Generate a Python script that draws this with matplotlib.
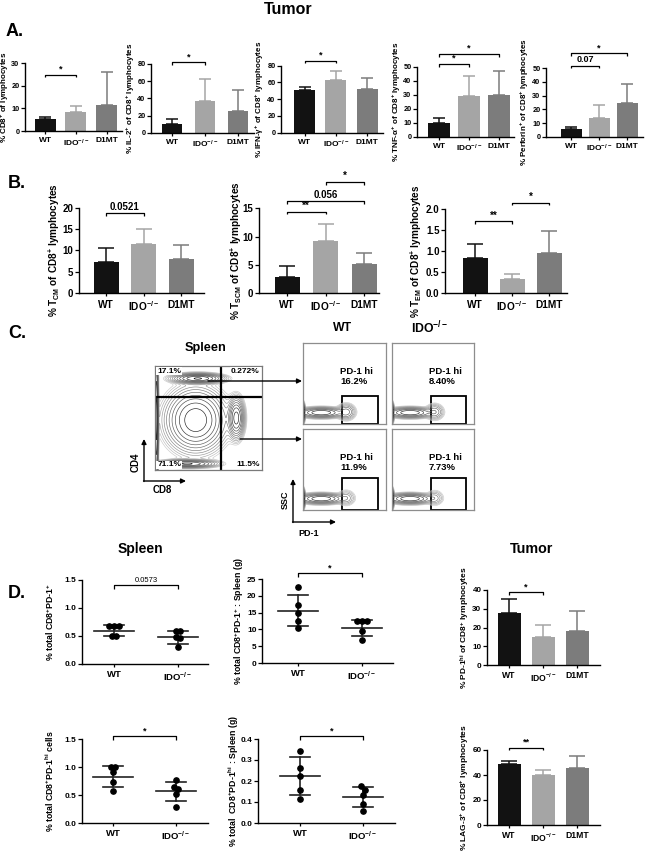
import numpy as np
import matplotlib
matplotlib.use("Agg")
import matplotlib.pyplot as plt
from matplotlib.patches import Rectangle, FancyArrowPatch

plt.rcParams['font.family'] = ['Liberation Sans', 'DejaVu Sans']
plt.rcParams['font.weight'] = 'bold'
plt.rcParams['axes.labelweight'] = 'bold'
plt.rcParams['mathtext.fontset'] = 'custom'
plt.rcParams['mathtext.rm'] = 'Liberation Sans:bold'
plt.rcParams['mathtext.bf'] = 'Liberation Sans:bold'
plt.rcParams['mathtext.it'] = 'Liberation Sans:bold:italic'
plt.rcParams['mathtext.sf'] = 'Liberation Sans:bold'
plt.rcParams['mathtext.default'] = 'bf'

# ------------------------------------------------------------------ data
groups3 = ["WT", "IDO$^{-/-}$", "D1MT"]
groups2 = ["WT", "IDO$^{-/-}$"]
bar_colors = ["#121212", "#a5a5a5", "#7c7c7c"]

# Panel A (tumor): mean and upper SD
a_cd8_mean = [5.1, 8.2, 11.4]
a_cd8_err = [1.2, 2.9, 14.8]
a_il2_mean = [10.7, 37.3, 24.8]
a_il2_err = [5.7, 24.7, 24.7]
a_ifng_mean = [51.0, 63.0, 51.8]
a_ifng_err = [3.0, 10.7, 13.2]
a_tnfa_mean = [9.5, 29.0, 30.0]
a_tnfa_err = [4.0, 14.5, 17.0]
a_perf_mean = [5.6, 13.4, 24.9]
a_perf_err = [1.7, 9.8, 13.4]

# Panel B
b_tcm_mean = [7.2, 11.5, 7.9]
b_tcm_err = [3.3, 3.5, 3.4]
b_tscm_mean = [2.8, 9.2, 5.2]
b_tscm_err = [2.1, 3.0, 1.9]
b_tem_mean = [0.84, 0.35, 0.96]
b_tem_err = [0.33, 0.12, 0.52]

# Panel C (flow cytometry)
quad_labels = ["17.1%", "0.272%", "71.1%", "11.5%"]
pd1_hi_labels = ["16.2%", "8.40%", "11.9%", "7.73%"]
pop_cx = [0.40, 0.38, 0.30, 0.015, 0.76]
pop_cy = [0.88, 0.48, 0.06, 0.50, 0.50]
pop_sx = [0.11, 0.13, 0.13, 0.008, 0.035]
pop_sy = [0.022, 0.14, 0.018, 0.33, 0.09]
pop_w = [1.0, 0.9, 0.7, 0.8, 0.8]
pd1_cx = [0.22, 0.012, 0.52]
pd1_cy = [0.14, 0.14, 0.15]
pd1_sx = [0.12, 0.006, 0.05]
pd1_sy = [0.028, 0.05, 0.045]
pd1_tail_w = [0.30, 0.22, 0.12, 0.10]

# Panel D (spleen dot plots)
d1_wt = [0.67, 0.685, 0.685, 0.50, 0.50]
d1_ido = [0.59, 0.59, 0.48, 0.47, 0.30]
d1_mean = [0.595, 0.476]
d1_sd = [0.095, 0.115]
d2_wt = [22.5, 17.3, 14.8, 12.5, 10.4]
d2_ido = [12.4, 12.4, 12.4, 9.4, 6.7]
d2_mean = [15.6, 10.4]
d2_sd = [4.6, 2.45]
d3_wt = [1.0, 1.0, 0.91, 0.74, 0.565]
d3_ido = [0.77, 0.61, 0.64, 0.52, 0.29]
d3_mean = [0.83, 0.565]
d3_sd = [0.195, 0.175]
d4_wt = [0.344, 0.262, 0.225, 0.159, 0.116]
d4_ido = [0.178, 0.156, 0.132, 0.09, 0.059]
d4_mean = [0.222, 0.122]
d4_sd = [0.09, 0.048]
# Panel D (tumor bars)
d5_mean = [27.5, 14.9, 18.3]
d5_err = [7.9, 6.6, 10.7]
d6_mean = [48.5, 40.0, 45.9]
d6_err = [3.0, 4.0, 9.3]

# ------------------------------------------------------------------ helpers
W, H = 650, 857
fig = plt.figure(figsize=(W / 100, H / 100), dpi=100)
fig.patch.set_facecolor("white")


def add_ax(x0, x1, ytop, ybot):
    return fig.add_axes([x0 / W, 1 - ybot / H, (x1 - x0) / W, (ybot - ytop) / H])


def T(x, y, s, **kw):
    kw.setdefault("ha", "center")
    kw.setdefault("va", "center")
    kw.setdefault("fontweight", "bold")
    return fig.text(x / W, 1 - y / H, s, **kw)


def xlim_from(x0, x1, c0, cN, n):
    s = (cN - c0) / (n - 1)
    return ((x0 - c0) / s, (n - 1) + (x1 - cN) / s), s


def fmt_ticks(ticks):
    if all(float(t).is_integer() for t in ticks):
        return ["%d" % t for t in ticks]
    return ["%.1f" % t for t in ticks]


def style(ax, fs_y, fs_x):
    for s in ["top", "right"]:
        ax.spines[s].set_visible(False)
    for s in ["left", "bottom"]:
        ax.spines[s].set_linewidth(1.0)
    ax.tick_params(axis="y", direction="out", length=3, width=0.9, labelsize=fs_y, pad=1.0)
    ax.tick_params(axis="x", direction="out", length=2.5, width=0.9, labelsize=fs_x, pad=2)
    for lab in ax.get_xticklabels() + ax.get_yticklabels():
        lab.set_fontweight("bold")


def place_ylabel(ax, box, ylabel, fs, lx):
    x0, x1, ytop, ybot = box
    ax.set_ylabel(ylabel, fontsize=fs)
    ax.yaxis.set_label_coords((lx - x0) / (x1 - x0), 0.5)
    ax.yaxis.label.set_verticalalignment("center")


def bracket(ax, i, j, y, txt, fs, px_h, tick_px=2.8, txt_w="bold"):
    ymax = ax.get_ylim()[1]
    h = tick_px * ymax / px_h
    ax.plot([i, i, j, j], [y - h, y, y, y - h], color="k", lw=0.9, clip_on=False,
            solid_capstyle="butt")
    ax.annotate(txt, ((i + j) / 2, y), xytext=(0, 0.8), textcoords="offset points",
                ha="center", va="bottom", fontsize=fs, fontweight=txt_w,
                annotation_clip=False)


def bar_panel(box, centers, bw_px, means, errs, yticks, ylabel, brackets, lx,
              fs_y, fs_x, fs_lab, fs_br, capsize, br_weight="bold"):
    x0, x1, ytop, ybot = box
    ax = add_ax(*box)
    n = len(means)
    xl, s = xlim_from(x0, x1, centers[0], centers[1], n)
    x = np.arange(n)
    ax.bar(x, means, width=bw_px / s, color=bar_colors[:n], zorder=2)
    for xi, m, e, c in zip(x, means, errs, bar_colors):
        ax.errorbar([xi], [m], yerr=[[0], [e]], fmt="none", ecolor=c,
                    elinewidth=1.1, capsize=capsize, capthick=1.1, zorder=1)
    ax.set_xlim(*xl)
    ax.set_ylim(0, yticks[-1])
    ax.set_yticks(yticks)
    ax.set_yticklabels(fmt_ticks(yticks))
    ax.set_xticks(x)
    ax.set_xticklabels(groups3[:n])
    place_ylabel(ax, box, ylabel, fs_lab, lx)
    style(ax, fs_y, fs_x)
    for (i, j, y, t) in brackets:
        bracket(ax, i, j, y, t, fs_br, ybot - ytop, txt_w=br_weight)
    return ax


def swarm_offsets(vals, tol, dx):
    vals = np.asarray(vals, float)
    order = np.argsort(vals)
    offs = np.zeros(len(vals))
    clusters, cur = [], [order[0]]
    for k in order[1:]:
        if vals[k] - vals[cur[-1]] <= tol:
            cur.append(k)
        else:
            clusters.append(cur)
            cur = [k]
    clusters.append(cur)
    for c in clusters:
        nn = len(c)
        for r, k in enumerate(c[::-1]):
            offs[k] = (r - (nn - 1) / 2) * dx
    return offs


def dot_panel(box, centers, groups_vals, means, sds, yticks, ylabel, brackets, lx,
              fs_y, fs_x, fs_lab, fs_br, br_weight="bold"):
    x0, x1, ytop, ybot = box
    ax = add_ax(*box)
    xl, s = xlim_from(x0, x1, centers[0], centers[1], 2)
    ymax = yticks[-1]
    for gi, (vals, m, sd) in enumerate(zip(groups_vals, means, sds)):
        offs = swarm_offsets(vals, 0.057 * ymax, 4.8 / s)
        ax.plot(gi + offs, vals, "o", color="k", ms=3.8, zorder=3, clip_on=False)
        mw, sw = 20 / s, 10 / s
        ax.plot([gi - mw, gi + mw], [m, m], color="#222222", lw=1.2)
        ax.plot([gi - sw, gi + sw], [m - sd, m - sd], color="#222222", lw=1.2)
        ax.plot([gi - sw, gi + sw], [m + sd, m + sd], color="#222222", lw=1.2)
        ax.plot([gi, gi], [m - sd, m + sd], color="#222222", lw=1.2)
    ax.set_xlim(*xl)
    ax.set_ylim(0, ymax)
    ax.set_yticks(yticks)
    ax.set_yticklabels(fmt_ticks(yticks))
    ax.set_xticks([0, 1])
    ax.set_xticklabels(groups2)
    place_ylabel(ax, box, ylabel, fs_lab, lx)
    style(ax, fs_y, fs_x)
    for (i, j, y, t) in brackets:
        bracket(ax, i, j, y, t, fs_br, ybot - ytop, tick_px=4, txt_w=br_weight)
    return ax


def density(cx, cy, sx, sy, w, n=260):
    g = np.linspace(0, 1, n)
    X, Y = np.meshgrid(g, g)
    Z = np.zeros_like(X)
    for a, b, c, d, e in zip(cx, cy, sx, sy, w):
        Z += e * np.exp(-0.5 * (((X - a) / c) ** 2 + ((Y - b) / d) ** 2))
    return X, Y, Z


def contour_plot(ax, X, Y, Z, nlev=11, lo=0.02):
    levels = np.geomspace(lo, 0.95, nlev) * Z.max()
    cols = plt.cm.Greys(np.linspace(0.32, 0.95, nlev))
    ax.contour(X, Y, Z, levels=levels, colors=cols, linewidths=0.45)
    ax.set_xlim(0, 1)
    ax.set_ylim(0, 1)
    ax.set_xticks([])
    ax.set_yticks([])


def arrow(p0, p1, lw=1.0, ms=7):
    fig.add_artist(FancyArrowPatch((p0[0] / W, 1 - p0[1] / H), (p1[0] / W, 1 - p1[1] / H),
                                   transform=fig.transFigure, arrowstyle="-|>",
                                   mutation_scale=ms, lw=lw, color="k",
                                   shrinkA=0, shrinkB=0))


# ------------------------------------------------------------------ panel A
T(288, 9, "Tumor", fontsize=11.5)
T(6, 32, "A.", fontsize=13, ha="left")
fsA = dict(fs_y=5.3, fs_x=6, fs_lab=5.8, fs_br=6.5, capsize=4.2)
bar_panel((25, 122, 63.3, 131), (45, 106.7), 21, a_cd8_mean, a_cd8_err, [0, 10, 20, 30],
          "% CD8$^{+}$ of lymphocytes", [(0, 1, 25, "*")], 5, **fsA)
bar_panel((151, 254, 64, 132.7), (172, 237.7), 20, a_il2_mean, a_il2_err, [0, 20, 40, 60, 80],
          "% IL-2$^{+}$ of CD8$^{+}$ lymphocytes", [(0, 1, 82, "*")], 131, **fsA)
bar_panel((281, 383, 65.7, 132.7), (304.7, 367), 21, a_ifng_mean, a_ifng_err, [0, 20, 40, 60, 80],
          "% IFN-γ$^{+}$ of CD8$^{+}$ lymphocytes", [(0, 1, 86, "*")], 260, **fsA)
bar_panel((417, 514, 66.7, 136.7), (439, 499), 22, a_tnfa_mean, a_tnfa_err, [0, 10, 20, 30, 40, 50],
          "% TNF-α$^{+}$ of CD8$^{+}$ lymphocytes", [(0, 1, 52, "*"), (0, 2, 59, "*")], 397, **fsA)
bar_panel((546, 643, 68.3, 136.7), (571, 627), 21, a_perf_mean, a_perf_err, [0, 10, 20, 30, 40, 50],
          "% Perforin$^{+}$ of CD8$^{+}$ lymphocytes", [(0, 1, 52, "0.07"), (0, 2, 61, "*")], 525,
          **fsA)

# ------------------------------------------------------------------ panel B
T(8, 183, "B.", fontsize=13, ha="left")
fsB = dict(fs_y=7, fs_x=7.3, fs_lab=7.2, fs_br=7, capsize=5.5)
bar_panel((79, 204, 207.7, 293.3), (106, 181), 25, b_tcm_mean, b_tcm_err, [0, 5, 10, 15, 20],
          "% T$_{CM}$ of CD8$^{+}$ lymphocytes", [(0, 1, 18.7, "0.0521")], 54, **fsB)
bar_panel((259, 379, 208.3, 293.3), (287, 364), 25, b_tscm_mean, b_tscm_err, [0, 5, 10, 15],
          "% T$_{SCM}$ of CD8$^{+}$ lymphocytes",
          [(0, 1, 14.4, "**"), (0, 2, 16.2, "0.056"), (1, 2, 19.6, "*")], 236, **fsB)
bar_panel((445, 567, 209.3, 293.3), (475, 549), 25, b_tem_mean, b_tem_err, [0, 0.5, 1.0, 1.5, 2.0],
          "% T$_{EM}$ of CD8$^{+}$ lymphocytes",
          [(0, 1, 1.71, "**"), (1, 2, 2.16, "*")], 416, **fsB)

# ------------------------------------------------------------------ panel C
T(8, 334, "C.", fontsize=13, ha="left")
T(206, 348, "Spleen", fontsize=9.2)
T(343, 328, "WT", fontsize=8.8)
T(430, 328, "IDO$^{-/-}$", fontsize=8.8)

axm = add_ax(155, 262, 366, 470)
Xm, Ym, Zm = density(pop_cx, pop_cy, pop_sx, pop_sy, pop_w)
contour_plot(axm, Xm, Ym, Zm, nlev=12, lo=0.015)
for sp in axm.spines.values():
    sp.set_color("#7a7a7a")
    sp.set_linewidth(0.9)
axm.axvline(0.617, color="k", lw=1.6)
axm.axhline(0.70, color="k", lw=1.6)
qpos = [(0.02, 0.985, "left", "top"), (0.98, 0.985, "right", "top"),
        (0.02, 0.015, "left", "bottom"), (0.98, 0.015, "right", "bottom")]
for lab, (qx, qy, ha, va) in zip(quad_labels, qpos):
    axm.text(qx, qy, lab, ha=ha, va=va, fontsize=6, fontweight="bold",
             transform=axm.transAxes,
             bbox=dict(boxstyle="square,pad=0.1", fc="white", ec="none"))

arrow((208, 381), (302, 381))
arrow((240, 439), (302, 439))
# CD4 / CD8 axis arrows
arrow((144, 481.5), (144, 439))
arrow((143.5, 481), (186, 481))
T(136, 462, "CD4", fontsize=7, rotation=90)
T(162, 490, "CD8", fontsize=7)

small_boxes = [(303, 386, 343, 424), (392, 474, 343, 424),
               (303, 386, 429, 510), (392, 474, 429, 510)]
gate_y = [0.35, 0.35, 0.40, 0.40]
for k, (bx, tw, lab, gy) in enumerate(zip(small_boxes, pd1_tail_w, pd1_hi_labels, gate_y)):
    ax = add_ax(*bx)
    Xs, Ys, Zs = density(pd1_cx, pd1_cy, pd1_sx, pd1_sy, [1.0, 0.9, tw])
    contour_plot(ax, Xs, Ys, Zs, nlev=10, lo=0.01)
    for sp in ax.spines.values():
        sp.set_color("#8d8d8d")
        sp.set_linewidth(0.9)
    ax.add_patch(Rectangle((0.47, 0.0), 0.43, gy, fill=False, ec="k", lw=1.3, clip_on=False))
    ax.text(0.45, 0.70, "PD-1 hi\n" + lab, ha="left", va="top", fontsize=6.8,
            fontweight="bold", linespacing=1.15, transform=ax.transAxes)

arrow((293, 522.5), (293, 479))
arrow((292.5, 522), (336, 522))
T(285, 500, "SSC", fontsize=6.5, rotation=90)
T(309, 533, "PD-1", fontsize=6.5)

# ------------------------------------------------------------------ panel D
T(8, 593, "D.", fontsize=13, ha="left")
T(140, 549, "Spleen", fontsize=10)
T(532, 549, "Tumor", fontsize=10.3)
fsD = dict(fs_y=6, fs_x=6.8, fs_lab=6.3, fs_br=6.5)
dot_panel((82, 208, 580, 664), (114, 178), [d1_wt, d1_ido], d1_mean, d1_sd,
          [0.0, 0.5, 1.0, 1.5], "% total CD8$^{+}$PD-1$^{+}$",
          [(0, 1, 1.41, "0.0573")], 50, **dict(fsD, fs_br=5.5), br_weight="normal")
dot_panel((262, 393, 579, 663), (298, 362), [d2_wt, d2_ido], d2_mean, d2_sd,
          [0, 5, 10, 15, 20, 25], "% total CD8$^{+}$PD-1$^{+}$ : Spleen (g)",
          [(0, 1, 26.7, "*")], 239, **fsD)
dot_panel((82, 208, 739, 823), (113, 176), [d3_wt, d3_ido], d3_mean, d3_sd,
          [0.0, 0.5, 1.0, 1.5], "% total CD8$^{+}$PD-1$^{hi}$ cells",
          [(0, 1, 1.55, "*")], 50, **fsD)
dot_panel((258, 395, 739, 823), (300, 363), [d4_wt, d4_ido], d4_mean, d4_sd,
          [0.0, 0.1, 0.2, 0.3, 0.4], "% total  CD8$^{+}$PD-1$^{hi}$ : Spleen (g)",
          [(0, 1, 0.413, "*")], 234, **fsD)
fsD2 = dict(fs_y=5.8, fs_x=6.2, fs_lab=6.0, fs_br=6.5, capsize=6)
bar_panel((487, 600, 590, 665), (509, 577), 23, d5_mean, d5_err, [0, 10, 20, 30, 40],
          "% PD-1$^{hi}$ of CD8$^{+}$ lymphocytes", [(0, 1, 38.7, "*")], 465, **fsD2)
bar_panel((487, 600, 750, 825), (509, 577), 23, d6_mean, d6_err, [0, 20, 40, 60],
          "% LAG-3$^{+}$ of CD8$^{+}$ lymphocytes", [(0, 1, 61.9, "**")], 465, **fsD2)

fig.savefig("out.png", dpi=100, facecolor="white")
